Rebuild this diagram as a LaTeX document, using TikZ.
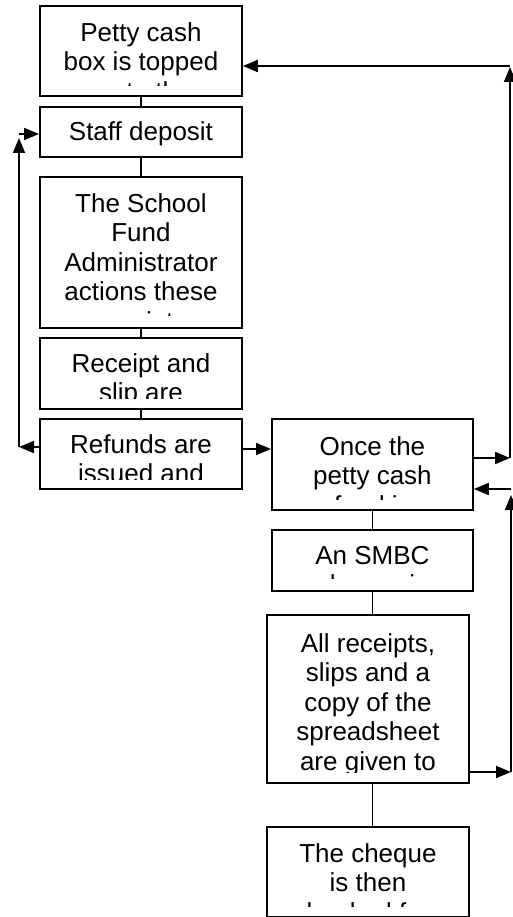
\documentclass[tikz,border=0pt]{standalone}
\usepackage{fontspec}
\setmainfont{Liberation Sans}
\usetikzlibrary{arrows.meta}

\tikzset{
  stepbox/.style={draw=black, line width=1.9pt, inner sep=0pt, anchor=north west},
  txt/.style={anchor=north, align=center, inner sep=0pt,
              font=\fontsize{26}{29.5}\selectfont},
  link/.style={draw=black, line width=1.9pt},
  arr/.style={link, -{Triangle[length=15pt,width=12pt]}},
}

% a process box: name, left, top, width, height
\newcommand\procbox[5]{%
  \node[stepbox, minimum width=#4pt, minimum height=#5pt] (#1) at (#2,#3) {};}

% text set inside a box and cut off above its bottom margin:
% box name, offset of the text top, bottom margin, text
\newcommand\boxtext[4]{%
  \begin{scope}
    \clip ([yshift=#3pt]#1.south west) rectangle (#1.north east);
    \node[txt] (#1t) at ([yshift=-#2pt]#1.north) {\rule{0pt}{20pt}#4};
  \end{scope}}

\begin{document}
\begin{tikzpicture}[x=1pt, y=-1pt]
  \useasboundingbox (0,0) rectangle (513,917);

  % left column
  \procbox{b1}{39}{5}{202}{90}
  \procbox{b2}{39}{106}{202}{50}
  \procbox{b3}{39}{176}{202}{151}
  \procbox{b4}{39}{337}{202}{71}
  \procbox{b5}{39}{418}{202}{70}
  % right column
  \procbox{b6}{271}{418}{201}{91}
  \procbox{b7}{271}{529}{201}{61}
  \procbox{b8}{266}{614}{202}{168}
  \procbox{b9}{266}{826}{202}{90}

  \boxtext{b1}{16}{11.5}{Petty cash\\box is topped\\up to the}
  \boxtext{b2}{14}{7}{Staff deposit}
  \boxtext{b3}{16}{13.5}{The School\\Fund\\Administrator\\actions these\\receipts}
  \boxtext{b4}{15}{11}{Receipt and\\slip are}
  \boxtext{b5}{15}{10}{Refunds are\\issued and}
  \boxtext{b6}{17}{11.5}{Once the\\petty cash\\fund is}
  \boxtext{b7}{15}{13}{An SMBC\\cheque is}
  \boxtext{b8}{18}{11.5}{All receipts,\\slips and a\\copy of the\\spreadsheet\\are given to}
  \boxtext{b9}{16}{11.5}{The cheque\\is then\\banked for}

  % plain links down each column
  \draw[link] (b1.south) -- (b2.north);
  \draw[link] (b2.south) -- (b3.north);
  \draw[link] (b3.south) -- (b4.north);
  \draw[link] (b4.south) -- (b5.north);
  \draw[link] (b6.south) -- (b7.north);
  \draw[link] (b7.south) -- (b7.south |- b8.north);
  \draw[link] (b7.south |- b8.south) -- (b7.south |- b9.north);

  % rail points of the loops
  \coordinate (L1) at (19,447);
  \coordinate (L2) at (19,134);
  \coordinate (H1) at (256,449);
  \coordinate (R1) at (510,458);
  \coordinate (R2) at (510,66);
  \coordinate (S1) at (511,772);
  \coordinate (S2) at (511,489);

  % refunds across to the top-up box
  \draw[arr] (b5.east |- H1) -- (b6.west |- H1);

  % loop back to the staff deposit
  \draw[arr] (b5.west |- L1) -- (L1);
  \draw[arr] (L1) -- ([yshift=-4pt]L2);
  \draw[arr] (L2) -- (L2 -| b2.west);

  % loop back to the petty cash box
  \draw[arr] (b6.east |- R1) -- (R1);
  \draw[arr] (R1) -- ([yshift=-1pt]R2);
  \draw[arr] (R2) -- (R2 -| b1.east);

  % loop back to the top-up box
  \draw[arr] (b8.east |- S1) -- (S1);
  \draw[arr] (S1) -- ([yshift=-6pt]S2);
  \draw[arr] (S2) -- (S2 -| b6.east);
\end{tikzpicture}
\end{document}
